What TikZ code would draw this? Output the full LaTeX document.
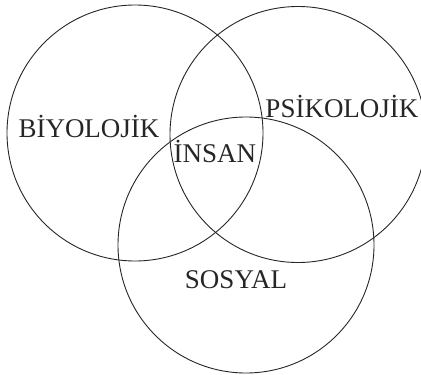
\documentclass[tikz,border=0pt]{standalone}
\usepackage{fontspec}
\setmainfont{Liberation Serif}
\begin{document}
\begin{tikzpicture}[x=1pt,y=-1pt,
  ring/.style={draw=black!85,line width=0.9pt},
  lbl/.style={anchor=base,inner sep=0pt,font=\fontsize{27}{30}\selectfont,text=black!85}]
\useasboundingbox (0,0) rectangle (421,375);
\draw[ring] (135,133) circle[radius=128];
\draw[ring] (298,134.5) circle[radius=128];
\draw[ring] (246,245) circle[radius=128];
\node[lbl] (bio) at (89,137) {BİYOLOJİK};
\node[lbl] (psi) at (342,117) {PSİKOLOJİK};
\node[lbl] (ins) at (215,162) {İNSAN};
\node[lbl] (sos) at (236,288) {SOSYAL};
\end{tikzpicture}
\end{document}
